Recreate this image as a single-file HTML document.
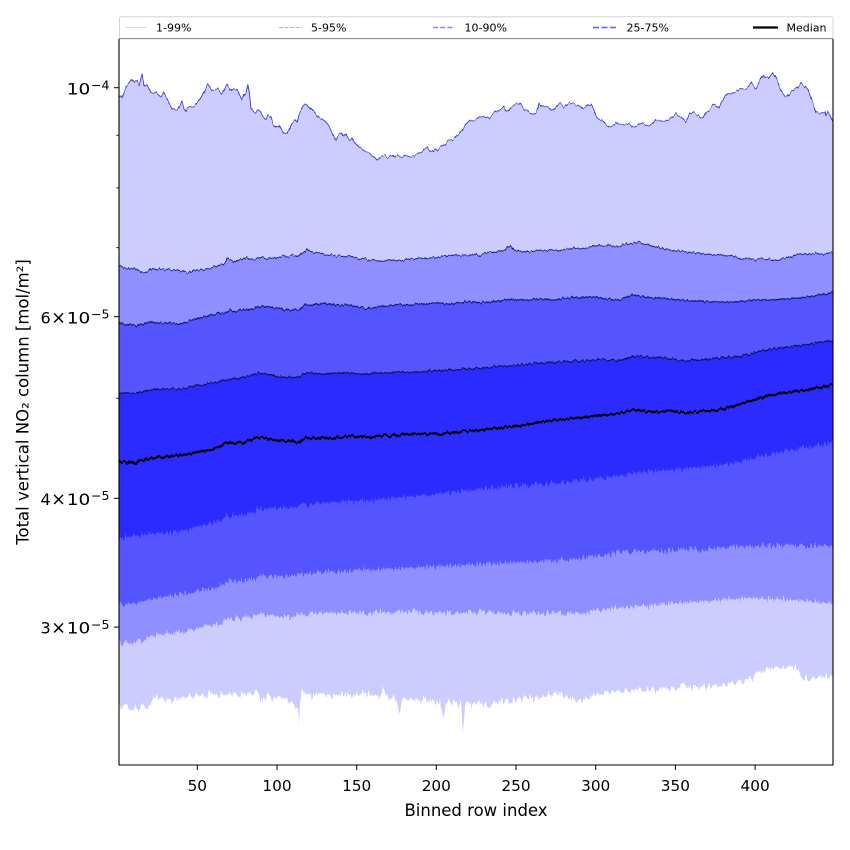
<!DOCTYPE html>
<html>
<head>
<meta charset="utf-8">
<style>
  html,body{margin:0;padding:0;background:#fff;}
  svg{display:block;}
  text{font-family:"DejaVu Sans","Liberation Sans",sans-serif;fill:#000;}
</style>
</head>
<body>
<svg width="850" height="850" viewBox="0 0 850 850" xmlns="http://www.w3.org/2000/svg">
<defs>
  <clipPath id="ax"><rect x="119" y="39" width="714" height="726"/></clipPath>
  <filter id="jA" filterUnits="userSpaceOnUse" x="100" y="0" width="760" height="820" color-interpolation-filters="sRGB">
    <feTurbulence type="fractalNoise" baseFrequency="0.45 0.04" numOctaves="2" seed="3" result="n"/>
    <feColorMatrix in="n" type="matrix" values="0 0 0 0 0.5  0 1 0 0 0  0 0 0 0 0  0 0 0 0 1" result="m"/>
    <feDisplacementMap in="SourceGraphic" in2="m" scale="5" xChannelSelector="R" yChannelSelector="G"/>
  </filter>
  <filter id="jB" filterUnits="userSpaceOnUse" x="100" y="0" width="760" height="820" color-interpolation-filters="sRGB">
    <feTurbulence type="fractalNoise" baseFrequency="0.6 0.03" numOctaves="2" seed="7" result="n"/>
    <feColorMatrix in="n" type="matrix" values="0 0 0 0 0.5  0 1 0 0 0  0 0 0 0 0  0 0 0 0 1" result="m"/>
    <feDisplacementMap in="SourceGraphic" in2="m" scale="12" xChannelSelector="R" yChannelSelector="G"/>
  </filter>
</defs>
<rect x="0" y="0" width="850" height="850" fill="#fff"/>

<g clip-path="url(#ax)">
 <g filter="url(#jA)">
  <!-- below p99 -->
  <path fill="#ccccff" d="M119,95 122,98 126,87 129,83 132,79 135,82 137,81 139,86 142,74 144,85 147,85 151,93 154,92 156,92 159,95 161,97 164,92 167,99 170,104 172,108 175,110 177,111 180,106 182,101 184,108 186,111 188,108 191,107 194,106 197,103 200,99 204,92 206,87 208,84 210,87 212,90 215,89 217,88 220,92 222,94 225,88 227,84 230,88 232,91 235,89 237,90 240,96 242,100 244,95 246,93 248,84 249,90 251,108 254,112 256,113 258,110 261,112 263,116 266,120 268,115 271,117 273,124 276,128 279,125 281,129 284,134 287,133 290,128 292,123 295,120 297,122 299,114 301,110 303,106 305,104 307,105 309,107 312,110 314,112 317,116 319,118 322,119 326,122 329,126 332,132 334,136 336,140 338,135 341,133 343,136 346,133 348,138 350,140 352,138 354,142 357,145 359,147 362,149 366,152 369,153 372,155 375,157 377,160 380,157 382,157 385,156 387,158 389,157 392,155 394,157 396,155 399,156 402,157 405,155 409,156 412,157 416,155 419,153 422,152 424,149 427,147 429,150 432,152 435,149 437,151 439,148 442,146 445,145 447,142 450,141 452,140 455,138 457,135 459,134 462,130 464,127 466,124 469,121 471,121 474,120 477,119 480,117 483,116 486,118 489,118 492,115 496,112 499,110 502,108 504,106 506,110 508,111 511,107 513,106 516,104 519,103 522,106 524,109 527,111 529,113 532,113 536,113 538,108 539,103 542,106 544,107 547,106 549,107 551,110 553,111 556,107 559,103 562,105 564,107 567,104 569,103 571,103 574,104 578,105 581,107 583,109 586,107 588,105 591,105 594,110 596,116 599,119 601,120 604,122 606,125 609,127 612,126 614,125 616,123 619,124 623,125 626,124 629,124 633,127 636,126 640,124 643,123 646,125 649,126 652,124 656,120 659,121 663,121 666,120 669,120 672,118 676,114 678,116 681,117 683,119 686,122 688,118 690,114 693,112 695,114 698,115 700,117 703,118 705,114 706,112 709,110 713,105 715,105 717,107 719,107 721,103 723,100 725,96 728,93 731,94 734,92 737,91 739,90 741,90 744,89 746,88 749,86 751,83 753,86 756,88 759,82 763,75 765,77 768,78 770,76 773,73 775,76 778,82 780,88 783,93 785,96 787,97 789,95 791,92 793,90 796,88 798,86 801,83 804,86 806,88 808,90 810,96 813,103 815,109 816,112 819,113 822,113 825,112 826,116 828,112 830,115 833,122 833,790 119,790 Z"/>
  <!-- below p95 -->
  <path fill="#8f8fff" d="M119,266 122,267 125,268 129,269 132,268 136,270 140,271 144,273 148,271 152,269 156,270 160,269 164,270 169,269 173,270 177,270 181,271 185,272 189,273 193,271 197,270 201,270 205,269 209,268 213,267 217,266 220,265 223,264 226,261 227,258 229,260 232,260 235,262 238,260 241,259 244,258 246,257 249,259 252,259 255,259 258,258 262,258 265,259 269,258 273,258 277,257 281,257 285,256 289,256 293,255 297,256 300,255 303,253 306,250 307,249 309,251 312,252 315,253 319,253 323,254 327,255 331,255 335,256 339,256 343,256 347,256 352,257 356,258 360,259 365,259 369,260 373,260 377,260 381,261 385,261 390,260 395,261 400,260 405,260 410,259 415,259 420,258 425,258 430,258 435,257 440,257 445,256 450,256 455,255 460,256 465,255 470,255 475,254 480,255 485,253 490,252 495,252 500,251 505,250 508,247 511,246 514,250 518,251 522,252 526,251 530,252 535,251 540,250 545,251 550,250 555,250 560,251 565,249 570,249 575,248 580,249 585,248 590,247 595,246 600,245 605,246 610,245 615,247 620,246 625,244 630,244 635,243 640,242 645,244 650,245 655,247 660,248 665,249 670,250 675,251 680,251 685,252 690,252 695,253 700,253 705,254 710,254 715,255 720,255 725,256 730,256 735,257 740,258 745,259 750,259 755,260 760,259 765,259 770,259 775,260 780,259 785,258 790,257 795,255 800,254 805,254 810,254 815,253 820,254 825,254 830,253 833,253 833,790 119,790 Z"/>
  <!-- below p90 -->
  <path fill="#5555ff" d="M119,323 123,324 127,325 131,324 135,326 139,325 143,324 147,323 152,322 156,323 160,323 164,323 168,323 172,323 176,324 179,324 183,323 187,322 192,320 196,319 200,318 204,317 208,316 212,315 216,314 220,313 224,313 228,312 230,310 233,311 237,311 241,310 246,309 250,309 254,308 258,307 262,306 266,307 270,307 274,308 278,309 282,309 286,310 290,310 294,310 299,310 302,307 305,304 308,305 312,305 316,304 320,304 324,303 328,304 332,304 336,305 340,305 345,305 350,305 355,306 360,307 365,308 369,308 375,307 380,307 385,306 390,306 395,305 400,305 405,305 410,305 415,304 420,304 425,304 430,304 435,303 440,303 445,304 450,304 455,303 460,303 465,302 470,302 475,302 480,303 485,302 490,302 495,301 500,301 505,300 510,299 515,300 520,300 525,300 530,300 535,299 540,299 545,299 550,300 555,300 560,299 565,298 570,298 575,297 580,298 585,297 590,297 595,297 600,298 605,299 610,299 615,300 620,300 627,297 633,295 639,296 645,297 652,298 660,298 670,299 680,300 690,301 700,301 710,302 720,302 733,302 745,301 752,300 760,300 767,300 775,300 781,299 787,299 797,298 807,297 814,296 820,295 827,294 833,292 833,790 119,790 Z"/>
  <!-- below p75 -->
  <path fill="#2b2bff" d="M119,393 125,393 131,393 139,393 145,391 152,390 159,389 165,389 172,389 179,389 185,388 190,387 196,386 202,385 209,383 215,382 220,381 226,380 232,379 238,378 246,377 252,375 259,373 265,374 272,375 279,377 285,377 292,377 299,377 302,375 306,373 312,373 319,374 326,374 333,373 340,373 346,373 352,373 358,374 364,374 369,374 375,373 380,373 385,373 390,373 395,372 400,372 410,372 420,372 430,371 440,371 450,370 460,369 470,369 480,368 490,367 500,366 510,366 520,365 530,364 540,363 550,362 560,362 570,361 580,361 590,360 600,360 610,360 620,360 627,358 633,356 643,357 653,357 667,358 677,360 687,361 700,360 710,359 720,358 730,357 740,356 750,354 760,351 773,349 787,347 797,346 807,345 820,342 833,340 833,790 119,790 Z"/>
 </g>

 <g filter="url(#jB)">
  <!-- below p25 -->
  <path fill="#5555ff" d="M119,537 123,538 127,536 131,537 135,535 139,536 143,534 147,535 151,533 155,534 159,532 163,534 167,532 171,533 175,531 179,532 183,530 187,531 191,528 195,527 199,525 203,526 207,524 211,524 215,522 219,522 223,519 226,515 229,517 233,515 237,516 241,514 245,514 249,512 253,512 257,510 261,508 265,509 269,508 273,509 277,508 281,509 285,508 289,508 293,507 297,508 300,504 304,504 308,505 312,504 316,503 320,503 326,503 332,502 338,502 344,501 350,501 356,501 362,500 369,501 375,500 381,499 387,499 393,498 400,497 406,497 412,496 418,496 424,495 430,495 436,494 442,493 448,493 454,492 460,492 466,491 472,490 478,489 484,489 490,488 496,487 502,487 508,486 514,486 520,485 526,485 532,484 538,484 544,484 550,483 556,483 562,482 568,481 574,480 580,480 590,479 600,478 610,477 620,476 633,473 645,472 655,471 667,470 680,469 690,468 700,467 710,466 720,465 733,463 743,461 750,459 757,457 767,455 777,452 787,450 800,448 810,447 820,445 833,443 833,790 119,790 Z"/>
  <!-- below p10 -->
  <path fill="#8f8fff" d="M119,604 124,605 129,603 134,604 139,602 144,601 149,599 154,599 159,597 164,597 170,595 175,596 180,594 186,593 190,593 195,591 199,591 202,590 206,589 210,588 214,588 219,587 222,585 224,584 227,581 229,580 233,582 237,581 241,581 246,580 250,579 254,578 258,577 262,575 266,576 270,576 274,577 278,577 282,576 286,577 290,577 293,576 296,576 299,575 302,574 305,573 309,573 312,572 316,573 319,572 325,572 330,571 336,572 341,571 347,571 352,570 357,570 362,569 369,569 375,570 380,569 385,569 390,568 395,569 400,568 405,568 410,567 415,568 420,567 425,567 430,566 435,567 440,566 445,566 450,565 455,566 460,565 465,565 470,564 475,565 480,564 485,564 490,563 495,564 500,563 505,563 510,562 515,563 520,562 525,562 530,561 535,562 540,561 545,561 550,560 555,561 560,560 565,560 570,559 576,559 583,558 589,557 595,556 600,555 605,554 610,554 616,553 621,553 627,552 632,552 638,551 644,551 650,550 655,551 661,550 666,551 672,550 677,550 683,550 688,549 694,549 699,550 705,549 710,548 716,548 721,548 727,547 732,547 738,546 744,546 750,545 755,546 761,545 766,546 772,546 777,545 783,546 788,546 794,546 799,547 805,546 810,546 816,546 820,547 825,546 829,547 833,547 833,790 119,790 Z"/>
  <!-- below p5 -->
  <path fill="#ccccff" d="M119,642 123,643 126,640 129,641 132,643 135,641 139,640 142,641 146,638 149,637 153,636 156,635 159,634 163,635 166,633 170,633 173,634 176,632 180,632 183,633 186,632 190,630 193,630 195,629 199,628 202,627 206,626 210,625 214,625 219,624 222,622 224,620 227,618 229,617 233,619 237,618 241,619 246,618 250,617 254,616 258,615 262,613 266,614 270,615 274,616 278,616 282,617 286,617 290,616 293,615 296,614 299,613 304,614 310,613 314,614 319,613 325,614 330,613 336,613 341,612 347,613 352,612 357,613 362,612 369,613 375,612 380,612 385,613 390,612 395,612 400,611 405,612 410,612 415,611 420,612 425,613 430,612 435,612 440,612 445,613 450,612 455,612 460,612 465,613 470,612 475,612 480,612 485,613 490,612 495,613 500,612 505,613 510,613 515,612 520,613 525,614 530,613 535,613 540,613 545,614 550,613 555,613 560,613 565,614 570,613 576,613 583,613 589,612 594,611 600,611 605,610 610,609 616,608 621,608 627,607 632,607 638,606 644,606 650,605 655,605 661,604 666,604 672,603 677,603 683,603 688,602 694,602 699,602 705,601 710,601 716,600 721,600 727,599 732,599 738,599 744,598 750,598 755,598 761,598 766,599 772,599 777,599 783,599 788,600 794,600 799,600 805,601 810,601 816,602 820,602 825,603 829,603 833,603 833,790 119,790 Z"/>
  <!-- below p1 -->
  <path fill="#ffffff" d="M119,704 122,710 125,704 129,707 132,712 135,706 139,709 142,704 146,708 149,707 152,700 156,695 159,700 162,697 166,701 169,698 172,703 176,697 179,700 183,696 186,698 190,694 193,699 196,693 200,697 203,693 206,699 209,692 213,696 216,694 219,698 222,692 226,697 229,692 232,695 235,693 239,698 242,692 246,696 249,691 252,694 256,690 259,697 262,700 266,698 269,694 272,700 276,697 279,696 282,699 286,698 289,703 292,701 295,706 298,710 299,722 300,700 302,690 306,695 309,693 312,698 316,693 319,695 322,692 326,697 329,693 332,699 336,693 339,696 342,692 346,697 349,693 352,698 356,692 359,696 362,691 366,695 369,692 373,697 376,694 380,699 383,685 386,695 390,700 393,696 396,700 398,706 400,715 402,700 405,697 408,702 411,697 414,701 418,698 421,703 424,697 427,700 430,703 433,699 436,704 440,700 443,718 446,703 449,700 452,705 455,700 458,706 461,702 463,732 465,705 468,700 471,706 474,702 477,704 480,700 483,705 486,703 489,712 492,704 495,700 498,704 501,699 504,703 507,698 510,704 513,699 516,702 519,697 522,700 525,695 528,699 531,697 534,700 537,696 540,699 543,695 546,697 549,693 552,696 555,691 558,697 561,693 564,699 567,695 570,700 573,697 576,702 579,699 583,702 586,697 589,700 592,694 595,696 599,693 602,696 606,691 609,694 613,690 616,692 619,688 623,694 626,689 630,692 633,688 636,692 640,689 643,693 646,690 649,690 653,687 656,692 659,689 663,688 666,688 669,691 673,687 676,690 679,685 683,683 686,689 689,687 693,688 696,686 699,688 703,684 706,690 709,686 713,687 716,685 719,688 723,683 726,686 729,682 733,682 736,684 739,679 743,683 746,680 749,678 753,679 756,673 759,672 763,673 766,669 769,668 773,669 776,667 779,668 783,667 786,669 789,666 793,667 796,667 799,670 801,677 803,680 806,676 809,680 813,678 816,679 819,676 823,679 826,674 829,677 833,675 833,800 119,800 Z"/>
 </g>

 <g filter="url(#jA)">
  <!-- edge lines -->
  <path fill="none" stroke="#3b3bd6" stroke-width="0.9" stroke-linejoin="round" d="M119,95 122,98 126,87 129,83 132,79 135,82 137,81 139,86 142,74 144,85 147,85 151,93 154,92 156,92 159,95 161,97 164,92 167,99 170,104 172,108 175,110 177,111 180,106 182,101 184,108 186,111 188,108 191,107 194,106 197,103 200,99 204,92 206,87 208,84 210,87 212,90 215,89 217,88 220,92 222,94 225,88 227,84 230,88 232,91 235,89 237,90 240,96 242,100 244,95 246,93 248,84 249,90 251,108 254,112 256,113 258,110 261,112 263,116 266,120 268,115 271,117 273,124 276,128 279,125 281,129 284,134 287,133 290,128 292,123 295,120 297,122 299,114 301,110 303,106 305,104 307,105 309,107 312,110 314,112 317,116 319,118 322,119 326,122 329,126 332,132 334,136 336,140 338,135 341,133 343,136 346,133 348,138 350,140 352,138 354,142 357,145 359,147 362,149 366,152 369,153 372,155 375,157 377,160 380,157 382,157 385,156 387,158 389,157 392,155 394,157 396,155 399,156 402,157 405,155 409,156 412,157 416,155 419,153 422,152 424,149 427,147 429,150 432,152 435,149 437,151 439,148 442,146 445,145 447,142 450,141 452,140 455,138 457,135 459,134 462,130 464,127 466,124 469,121 471,121 474,120 477,119 480,117 483,116 486,118 489,118 492,115 496,112 499,110 502,108 504,106 506,110 508,111 511,107 513,106 516,104 519,103 522,106 524,109 527,111 529,113 532,113 536,113 538,108 539,103 542,106 544,107 547,106 549,107 551,110 553,111 556,107 559,103 562,105 564,107 567,104 569,103 571,103 574,104 578,105 581,107 583,109 586,107 588,105 591,105 594,110 596,116 599,119 601,120 604,122 606,125 609,127 612,126 614,125 616,123 619,124 623,125 626,124 629,124 633,127 636,126 640,124 643,123 646,125 649,126 652,124 656,120 659,121 663,121 666,120 669,120 672,118 676,114 678,116 681,117 683,119 686,122 688,118 690,114 693,112 695,114 698,115 700,117 703,118 705,114 706,112 709,110 713,105 715,105 717,107 719,107 721,103 723,100 725,96 728,93 731,94 734,92 737,91 739,90 741,90 744,89 746,88 749,86 751,83 753,86 756,88 759,82 763,75 765,77 768,78 770,76 773,73 775,76 778,82 780,88 783,93 785,96 787,97 789,95 791,92 793,90 796,88 798,86 801,83 804,86 806,88 808,90 810,96 813,103 815,109 816,112 819,113 822,113 825,112 826,116 828,112 830,115 833,122"/>
  <path fill="none" stroke="#1c1c8c" stroke-width="1.1" stroke-linejoin="round" d="M119,266 122,267 125,268 129,269 132,268 136,270 140,271 144,273 148,271 152,269 156,270 160,269 164,270 169,269 173,270 177,270 181,271 185,272 189,273 193,271 197,270 201,270 205,269 209,268 213,267 217,266 220,265 223,264 226,261 227,258 229,260 232,260 235,262 238,260 241,259 244,258 246,257 249,259 252,259 255,259 258,258 262,258 265,259 269,258 273,258 277,257 281,257 285,256 289,256 293,255 297,256 300,255 303,253 306,250 307,249 309,251 312,252 315,253 319,253 323,254 327,255 331,255 335,256 339,256 343,256 347,256 352,257 356,258 360,259 365,259 369,260 373,260 377,260 381,261 385,261 390,260 395,261 400,260 405,260 410,259 415,259 420,258 425,258 430,258 435,257 440,257 445,256 450,256 455,255 460,256 465,255 470,255 475,254 480,255 485,253 490,252 495,252 500,251 505,250 508,247 511,246 514,250 518,251 522,252 526,251 530,252 535,251 540,250 545,251 550,250 555,250 560,251 565,249 570,249 575,248 580,249 585,248 590,247 595,246 600,245 605,246 610,245 615,247 620,246 625,244 630,244 635,243 640,242 645,244 650,245 655,247 660,248 665,249 670,250 675,251 680,251 685,252 690,252 695,253 700,253 705,254 710,254 715,255 720,255 725,256 730,256 735,257 740,258 745,259 750,259 755,260 760,259 765,259 770,259 775,260 780,259 785,258 790,257 795,255 800,254 805,254 810,254 815,253 820,254 825,254 830,253 833,253"/>
  <path fill="none" stroke="#15156e" stroke-width="1.2" stroke-linejoin="round" d="M119,323 123,324 127,325 131,324 135,326 139,325 143,324 147,323 152,322 156,323 160,323 164,323 168,323 172,323 176,324 179,324 183,323 187,322 192,320 196,319 200,318 204,317 208,316 212,315 216,314 220,313 224,313 228,312 230,310 233,311 237,311 241,310 246,309 250,309 254,308 258,307 262,306 266,307 270,307 274,308 278,309 282,309 286,310 290,310 294,310 299,310 302,307 305,304 308,305 312,305 316,304 320,304 324,303 328,304 332,304 336,305 340,305 345,305 350,305 355,306 360,307 365,308 369,308 375,307 380,307 385,306 390,306 395,305 400,305 405,305 410,305 415,304 420,304 425,304 430,304 435,303 440,303 445,304 450,304 455,303 460,303 465,302 470,302 475,302 480,303 485,302 490,302 495,301 500,301 505,300 510,299 515,300 520,300 525,300 530,300 535,299 540,299 545,299 550,300 555,300 560,299 565,298 570,298 575,297 580,298 585,297 590,297 595,297 600,298 605,299 610,299 615,300 620,300 627,297 633,295 639,296 645,297 652,298 660,298 670,299 680,300 690,301 700,301 710,302 720,302 733,302 745,301 752,300 760,300 767,300 775,300 781,299 787,299 797,298 807,297 814,296 820,295 827,294 833,292"/>
  <path fill="none" stroke="#10104a" stroke-width="1.3" stroke-linejoin="round" d="M119,393 125,393 131,393 139,393 145,391 152,390 159,389 165,389 172,389 179,389 185,388 190,387 196,386 202,385 209,383 215,382 220,381 226,380 232,379 238,378 246,377 252,375 259,373 265,374 272,375 279,377 285,377 292,377 299,377 302,375 306,373 312,373 319,374 326,374 333,373 340,373 346,373 352,373 358,374 364,374 369,374 375,373 380,373 385,373 390,373 395,372 400,372 410,372 420,372 430,371 440,371 450,370 460,369 470,369 480,368 490,367 500,366 510,366 520,365 530,364 540,363 550,362 560,362 570,361 580,361 590,360 600,360 610,360 620,360 627,358 633,356 643,357 653,357 667,358 677,360 687,361 700,360 710,359 720,358 730,357 740,356 750,354 760,351 773,349 787,347 797,346 807,345 820,342 833,340"/>
  <path fill="none" stroke="#000" stroke-width="2.3" stroke-linejoin="round" d="M119,460 122,462 125,461 128,463 130,461 133,462 136,464 139,461 141,460 144,461 146,459 149,459 152,457 155,458 158,457 161,458 164,457 167,456 169,457 172,456 175,456 178,455 180,455 183,455 186,454 189,454 192,453 195,452 199,452 202,451 205,451 208,450 212,450 215,448 218,447 220,446 222,445 224,443 226,443 229,444 232,443 235,444 237,443 240,442 242,443 245,442 248,441 251,440 254,439 257,438 261,437 264,438 267,438 270,439 273,440 276,440 279,441 282,440 285,441 289,441 292,441 295,442 299,442 301,440 303,439 306,438 309,438 312,438 316,439 319,439 322,438 326,439 329,438 333,438 336,437 340,437 343,437 346,437 349,436 352,436 355,437 358,437 361,436 364,437 367,437 369,437 372,436 375,436 380,436 385,435 390,436 395,435 400,435 405,434 410,435 415,434 420,434 425,433 430,434 435,434 440,434 445,433 450,433 455,432 460,432 465,431 470,431 475,431 480,430 485,429 490,429 495,428 500,428 505,427 510,427 515,426 520,426 525,425 530,424 535,423 540,422 545,421 550,421 555,420 560,420 565,419 570,419 575,418 580,418 585,417 590,416 595,416 600,415 605,414 610,414 615,413 620,413 624,412 627,411 630,411 633,410 636,411 640,411 643,411 647,412 650,412 653,413 657,412 660,412 663,412 667,411 670,411 673,411 677,412 680,412 684,413 687,413 691,412 694,412 697,412 700,411 704,411 707,411 710,411 714,410 717,410 721,409 724,409 727,408 731,407 734,406 737,405 740,404 744,403 747,402 750,401 754,400 757,399 760,398 764,397 767,396 770,395 774,395 777,394 780,393 784,393 787,392 790,392 794,391 797,391 800,390 804,390 807,390 810,389 814,389 817,388 820,388 824,387 827,386 830,385 833,385"/>
 </g>
</g>

<!-- spines -->
<line x1="119" y1="39" x2="119" y2="765.5" stroke="#000" stroke-width="1.1"/>
<line x1="833" y1="39" x2="833" y2="765.5" stroke="#000" stroke-width="1.1"/>
<line x1="118.5" y1="765" x2="833.5" y2="765" stroke="#000" stroke-width="1.1"/>

<!-- x ticks -->
<g stroke="#000" stroke-width="1">
  <line x1="197.3" y1="765" x2="197.3" y2="770"/>
  <line x1="277" y1="765" x2="277" y2="770"/>
  <line x1="356.7" y1="765" x2="356.7" y2="770"/>
  <line x1="436.3" y1="765" x2="436.3" y2="770"/>
  <line x1="516" y1="765" x2="516" y2="770"/>
  <line x1="595.7" y1="765" x2="595.7" y2="770"/>
  <line x1="675.4" y1="765" x2="675.4" y2="770"/>
  <line x1="755.1" y1="765" x2="755.1" y2="770"/>
</g>
<g font-size="15.3" text-anchor="middle">
  <text x="197.3" y="791">50</text>
  <text x="277" y="791">100</text>
  <text x="356.7" y="791">150</text>
  <text x="436.3" y="791">200</text>
  <text x="516" y="791">250</text>
  <text x="595.7" y="791">300</text>
  <text x="675.4" y="791">350</text>
  <text x="755.1" y="791">400</text>
</g>
<text x="476" y="816" font-size="16.5" text-anchor="middle">Binned row index</text>

<!-- y ticks -->
<g stroke="#000" stroke-width="1">
  <line x1="114" y1="87.7" x2="119" y2="87.7"/>
  <line x1="114" y1="316.7" x2="119" y2="316.7"/>
  <line x1="114" y1="498.3" x2="119" y2="498.3"/>
  <line x1="114" y1="627.1" x2="119" y2="627.1"/>
  <line x1="116.2" y1="135.2" x2="119" y2="135.2" stroke-width="0.8"/>
  <line x1="116.2" y1="187.9" x2="119" y2="187.9" stroke-width="0.8"/>
  <line x1="116.2" y1="247.7" x2="119" y2="247.7" stroke-width="0.8"/>
  <line x1="116.2" y1="398.3" x2="119" y2="398.3" stroke-width="0.8"/>
</g>
<g font-size="16">
  <text x="66.8" y="94.3" textLength="23.5" lengthAdjust="spacingAndGlyphs">10</text>
  <text x="91" y="89.5" font-size="12.5">−4</text>

  <text x="40.5" y="323.3">6</text>
  <text x="51.2" y="323.3" font-size="17.5">×</text>
  <text x="66.8" y="323.3" textLength="23.5" lengthAdjust="spacingAndGlyphs">10</text>
  <text x="91" y="318.6" font-size="12.5">−5</text>

  <text x="40.5" y="504.9">4</text>
  <text x="51.2" y="504.9" font-size="17.5">×</text>
  <text x="66.8" y="504.9" textLength="23.5" lengthAdjust="spacingAndGlyphs">10</text>
  <text x="91" y="500.2" font-size="12.5">−5</text>

  <text x="40.5" y="633.7">3</text>
  <text x="51.2" y="633.7" font-size="17.5">×</text>
  <text x="66.8" y="633.7" textLength="23.5" lengthAdjust="spacingAndGlyphs">10</text>
  <text x="91" y="629" font-size="12.5">−5</text>
</g>
<text transform="translate(28.5,402) rotate(-90)" font-size="16.5" text-anchor="middle">Total vertical NO₂ column [mol/m²]</text>

<!-- legend -->
<rect x="119.5" y="16.8" width="713.5" height="21.8" rx="2" ry="2" fill="#fff" fill-opacity="0.8" stroke="#d4d4d4" stroke-width="1"/>
<line x1="119" y1="38.6" x2="833" y2="38.6" stroke="#8f8f8f" stroke-width="1.1"/>
<g>
  <line x1="125" y1="27.5" x2="147" y2="27.5" stroke="#d8d8ff" stroke-width="1"/>
  <line x1="279" y1="27.5" x2="302" y2="27.5" stroke="#a8a8ff" stroke-width="1" stroke-dasharray="4,1.5"/>
  <line x1="433" y1="27.5" x2="455" y2="27.5" stroke="#8a8aff" stroke-width="1.4" stroke-dasharray="5,2.2"/>
  <line x1="593" y1="27.5" x2="616" y2="27.5" stroke="#6f6fff" stroke-width="1.8" stroke-dasharray="6,2.5"/>
  <line x1="753" y1="27.5" x2="778" y2="27.5" stroke="#000" stroke-width="2.2"/>
</g>
<g font-size="11">
  <text x="156" y="31.5">1-99%</text>
  <text x="311" y="31.5">5-95%</text>
  <text x="464.5" y="31.5">10-90%</text>
  <text x="626.5" y="31.5">25-75%</text>
  <text x="786.5" y="31.5">Median</text>
</g>
</svg>
</body>
</html>
